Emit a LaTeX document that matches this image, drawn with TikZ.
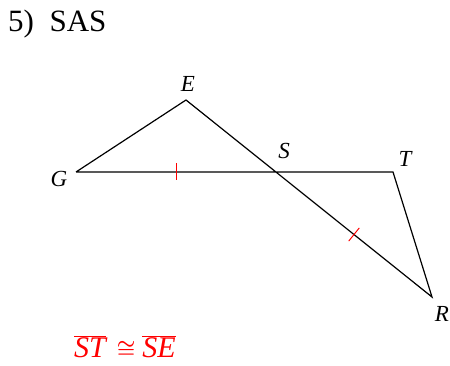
\documentclass[tikz,border=0pt]{standalone}
\usepackage{fontspec}
\setmainfont{Liberation Serif}
\usetikzlibrary{calc}

\begin{document}
\begin{tikzpicture}[
    x=1pt, y=-1pt,
    side/.style={draw, line width=1.2pt},
    tick/.style={draw=red, line width=1pt},
    lbl/.style={inner sep=0pt, font=\fontsize{23}{26}\selectfont\itshape},
    title/.style={inner sep=0pt, anchor=base west, font=\fontsize{31}{36}\selectfont},
    given/.style={inner sep=0pt, anchor=base west, text=red, font=\fontsize{30}{34}\selectfont\itshape}
]
\useasboundingbox (0,0) rectangle (450,366);

\node[title] (head) at (8,32) {5)\ \ SAS};

% vertices
\coordinate (G) at (76,172);
\coordinate (E) at (186,100);
\coordinate (S) at (276,172);
\coordinate (T) at (393,172);
\coordinate (R) at (432,297);

\draw[side] (G) -- (E) -- (R) -- (T) -- (G);

% tick marks for ST = SE
\coordinate (m1) at ($(G)!0.5!(S)$);
\coordinate (m2) at ($(S)!0.5!(R)$);
\draw[tick] ($(m1)!8.5pt!90:(S)$) -- ($(m1)!8.5pt!-90:(S)$);
\draw[tick] ($(m2)!8.5pt!90:(R)$) -- ($(m2)!8.5pt!-90:(R)$);

\node[lbl] (labE) at (188,84) {E};
\node[lbl] (labS) at (284,151) {S};
\node[lbl] (labT) at (405,159) {T};
\node[lbl] (labG) at (59,179) {G};
\node[lbl] (labR) at (442,314) {R};

\node[given] (cong) at (74,357) {$\overline{\hbox{ST}}$\hspace{11pt}{\fontsize{20}{20}\selectfont\boldmath$\cong$}\hspace{7pt}$\overline{\hbox{SE}}$};
\end{tikzpicture}
\end{document}
